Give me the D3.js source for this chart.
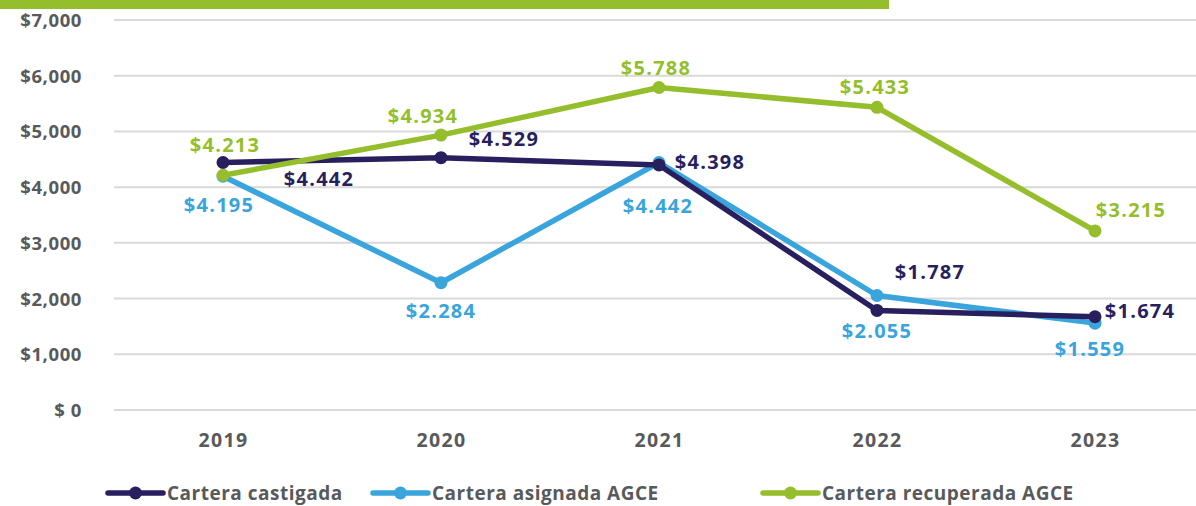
<!DOCTYPE html>
<html>
<head>
<meta charset="utf-8">
<script src="https://cdn.jsdelivr.net/npm/d3@7"></script>
<style>
  html, body { margin: 0; padding: 0; background: #fff; }
  svg { display: block; font-family: "Open Sans", "DejaVu Sans", sans-serif; }
</style>
</head>
<body>
<svg id="chart" width="1196" height="506"></svg>
<script>
const years = ["2019", "2020", "2021", "2022", "2023"];
const castigada = [4442, 4529, 4398, 1787, 1674];
const asignada = [4195, 2284, 4442, 2055, 1559];
const recuperada = [4213, 4934, 5788, 5433, 3215];
const yTicks = [0, 1000, 2000, 3000, 4000, 5000, 6000, 7000];
const yTickLabels = ["$ 0", "$1,000", "$2,000", "$3,000", "$4,000", "$5,000", "$6,000", "$7,000"];
const seriesNames = ["Cartera castigada", "Cartera asignada AGCE", "Cartera recuperada AGCE"];

// label offsets (styling: where each value label sits relative to its point)
const labelOffsets = [
  [[96, 16], [63, -19], [51, -3], [53, -38], [45, -6]],
  [[-4, 29], [0, 28], [-1, 43], [0, 35], [-5, 26]],
  [[2, -30], [-18, -19], [-3, -20], [-2, -20], [36, -21]]
];
const colors = ["#271f5e", "#3aa4dd", "#95be2c"];
const textGrey = "#58595b";

const svg = d3.select("#chart");

// top green bar
svg.append("rect").attr("x", 0).attr("y", 0).attr("width", 889).attr("height", 9).attr("fill", "#95be2c");

const x = d3.scalePoint().domain(years).range([114, 1204]).padding(0.5);
const y = d3.scaleLinear().domain([0, 7000]).range([410, 20]);

// grid
svg.append("g").selectAll("line").data(yTicks).join("line")
  .attr("x1", 114).attr("x2", 1196)
  .attr("y1", d => y(d)).attr("y2", d => y(d))
  .attr("stroke", "#d9d9d9").attr("stroke-width", 2);

// y axis labels
const yAxis = d3.axisLeft(y).tickValues(yTicks).tickFormat((d, i) => yTickLabels[i]).tickSize(0).tickPadding(0);
const gy = svg.append("g").attr("transform", "translate(82,0)").call(yAxis);
gy.select(".domain").remove();
gy.selectAll("text").attr("fill", textGrey).attr("font-size", 18.5).attr("font-weight", 700)
  .attr("letter-spacing", 0.6)
  .attr("font-family", "'Open Sans', sans-serif").attr("dy", "0.35em");

// x axis labels
const xAxis = d3.axisBottom(x).tickSize(0).tickPadding(0);
const gx = svg.append("g").attr("transform", "translate(0,433)").call(xAxis);
gx.select(".domain").remove();
gx.selectAll("text").attr("fill", textGrey).attr("font-size", 19.5).attr("font-weight", 700)
  .attr("letter-spacing", 1.4)
  .attr("font-family", "'Open Sans', sans-serif").attr("dy", "0.71em");

const allSeries = [castigada, asignada, recuperada];
const line = d3.line().x((d, i) => x(years[i])).y(d => y(d));

const drawOrder = [1, 0, 2];
drawOrder.forEach(s => {
  const vals = allSeries[s];
  const g = svg.append("g");
  g.append("path").datum(vals).attr("d", line)
    .attr("fill", "none").attr("stroke", colors[s]).attr("stroke-width", 5.5)
    .attr("stroke-linejoin", "round");
  g.selectAll("circle").data(vals).join("circle")
    .attr("cx", (d, i) => x(years[i])).attr("cy", d => y(d)).attr("r", 6.5)
    .attr("fill", colors[s]);
});

// value labels
const fmt = v => "$" + d3.format(",")(v).replace(",", ".");
[0, 1, 2].forEach(s => {
  const vals = allSeries[s];
  svg.append("g").selectAll("text").data(vals).join("text")
    .attr("x", (d, i) => x(years[i]) + labelOffsets[s][i][0])
    .attr("y", (d, i) => y(d) + labelOffsets[s][i][1])
    .attr("dy", "0.35em")
    .attr("text-anchor", "middle")
    .attr("fill", colors[s])
    .attr("font-size", 20).attr("font-weight", 700).attr("letter-spacing", 1.3)
    .text(d => fmt(d));
});

// legend
const legendX = [108, 373, 763];
const lg = svg.append("g").attr("transform", "translate(0,493)");
seriesNames.forEach((name, i) => {
  const g = lg.append("g").attr("transform", `translate(${legendX[i]},0)`);
  g.append("line").attr("x1", 0).attr("x2", 55).attr("y1", 0).attr("y2", 0)
    .attr("stroke", colors[i]).attr("stroke-width", 5.5).attr("stroke-linecap", "round");
  g.append("circle").attr("cx", 27.5).attr("cy", 0).attr("r", 6.5).attr("fill", colors[i]);
  g.append("text").attr("x", 59).attr("y", 0).attr("dy", "0.35em")
    .attr("fill", textGrey).attr("font-size", 19).attr("font-weight", 700)
    .attr("letter-spacing", 0.5)
    .text(name);
});
</script>
</body>
</html>
